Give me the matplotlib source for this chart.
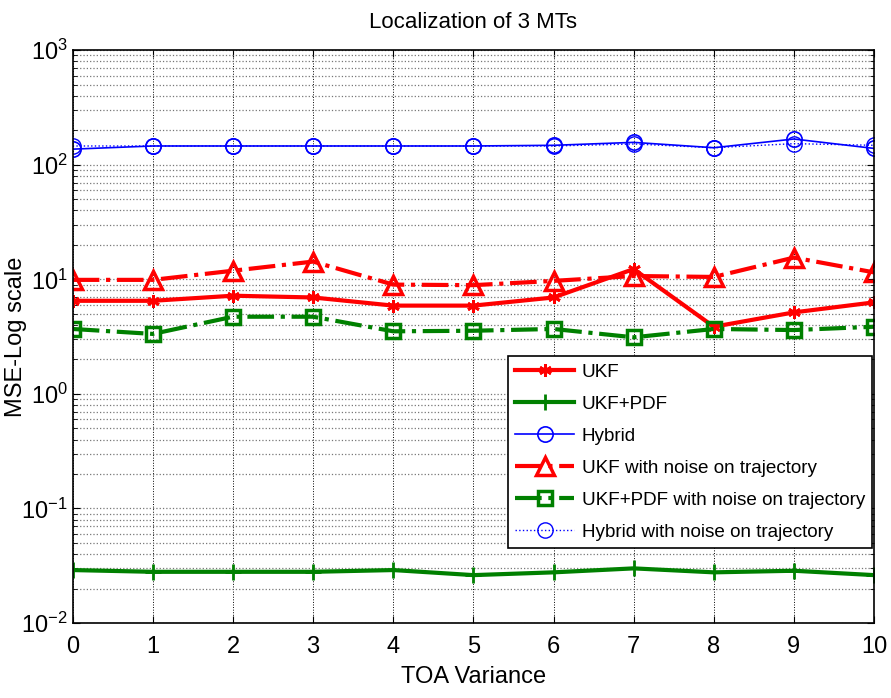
import matplotlib
matplotlib.use("Agg")
import matplotlib.pyplot as plt
from matplotlib.ticker import LogLocator, NullFormatter

# -------------------------------
# Data
# -------------------------------
toa_variance = [0, 1, 2, 3, 4, 5, 6, 7, 8, 9, 10]

ukf = [6.5, 6.5, 7.2, 6.95, 5.9, 5.9, 6.95, 12.3, 3.86, 5.15, 6.3]
ukf_pdf = [0.0290, 0.0280, 0.0280, 0.0280, 0.0290, 0.0262, 0.0277, 0.0300, 0.0277, 0.0286, 0.0262]
hybrid = [137, 146, 146, 146, 146, 146, 148, 157, 141, 168, 139]
ukf_noise = [9.9, 9.9, 11.9, 14.3, 9.0, 8.9, 9.7, 10.7, 10.5, 15.5, 11.5]
ukf_pdf_noise = [3.69, 3.34, 4.72, 4.72, 3.52, 3.56, 3.69, 3.12, 3.69, 3.61, 3.86]
hybrid_noise = [146, 146, 146, 146, 146, 146, 146, 152, 141, 153, 148]

labels = ["UKF", "UKF+PDF", "Hybrid", "UKF with noise on trajectory",
          "UKF+PDF with noise on trajectory", "Hybrid with noise on trajectory"]

# -------------------------------
# Style
# -------------------------------
plt.rcParams["font.family"] = ["Liberation Sans", "DejaVu Sans"]
plt.rcParams["mathtext.default"] = "regular"

RED = "#ff0000"
GREEN = "#008000"
BLUE = "#0000ff"

fig = plt.figure(figsize=(8.91, 6.98), dpi=100)
ax = fig.add_axes([0.0816, 0.1074, 0.8994, 0.8206])

ax.plot(toa_variance, ukf, color=RED, lw=3, ls="-", marker=(6, 2, 0),
        ms=9, mew=2, label=labels[0])
ax.plot(toa_variance, ukf_pdf, color=GREEN, lw=3, ls="-", marker="+",
        ms=11, mew=2, label=labels[1])
ax.plot(toa_variance, hybrid, color=BLUE, lw=1.2, ls="-", marker="o",
        ms=11, mfc="none", mew=1.2, label=labels[2])
ax.plot(toa_variance, ukf_noise, color=RED, lw=3, ls="-.", marker="^",
        ms=13, mfc="none", mew=2.5, label=labels[3])
ax.plot(toa_variance, ukf_pdf_noise, color=GREEN, lw=3, ls="-.", marker="s",
        ms=10, mfc="none", mew=2.5, label=labels[4])
ax.plot(toa_variance, hybrid_noise, color=BLUE, lw=1, ls=":", marker="o",
        ms=11, mfc="none", mew=1, label=labels[5])

ax.set_yscale("log")
ax.set_xlim(0, 10)
ax.set_ylim(1e-2, 1e3)
ax.set_xticks(toa_variance)
ax.yaxis.set_major_locator(LogLocator(base=10, numticks=10))
ax.yaxis.set_minor_locator(LogLocator(base=10, subs=range(2, 10), numticks=20))
ax.yaxis.set_minor_formatter(NullFormatter())

ax.grid(True, which="major", axis="x", color="black", ls=":", lw=0.7)
ax.grid(True, which="both", axis="y", color="#777777", ls=":", lw=0.9)

ax.tick_params(which="both", direction="in", top=True, right=True,
               labelsize=17)
ax.tick_params(which="major", length=5)
ax.tick_params(which="minor", length=3)
ax.tick_params(axis="x", pad=9)
for s in ax.spines.values():
    s.set_linewidth(1.2)

ax.set_title("Localization of 3 MTs", fontsize=16, pad=16)
ax.set_xlabel("TOA Variance", fontsize=17, labelpad=6)
ax.set_ylabel("MSE-Log scale", fontsize=17, labelpad=-4)

leg = ax.legend(loc="upper left", bbox_to_anchor=(0.543, 0.466),
                fontsize=13.6, frameon=True, fancybox=False, framealpha=1,
                edgecolor="black", handlelength=3.1, handletextpad=0.4,
                labelspacing=0.78, borderpad=0.4, borderaxespad=0)
leg.get_frame().set_linewidth(1.2)

fig.savefig("out.png", dpi=100)
